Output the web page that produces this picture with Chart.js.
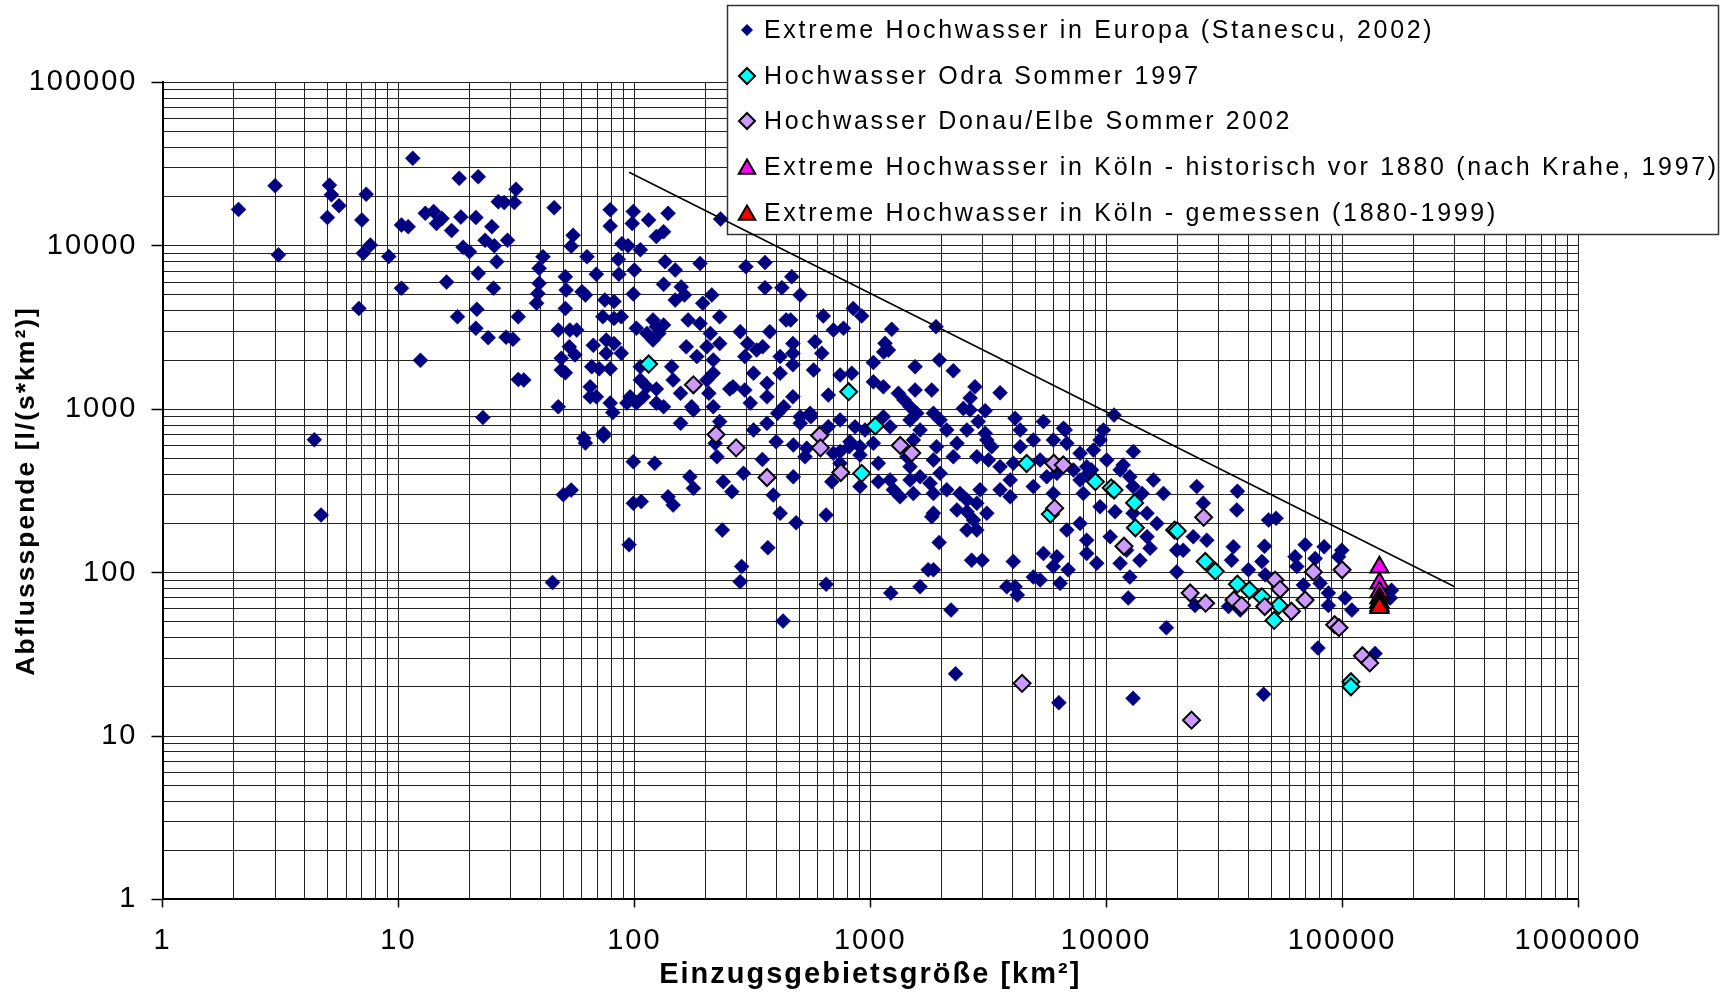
<!DOCTYPE html>
<html><head><meta charset="utf-8">
<script src="https://cdn.jsdelivr.net/npm/chart.js@4.4.1/dist/chart.umd.min.js"></script>
<style>html,body{margin:0;padding:0;background:#fff;}#wrap{position:relative;width:1722px;height:996px;}</style>
</head><body><div id="wrap"><canvas id="c" width="1722" height="996"></canvas></div>
<script>
// ---- data: [Einzugsgebietsgröße km², Abflussspende l/(s*km²)] ----
const stanescu = [
[2.1,16700],[3,23300],[3.1,8800],[5.1,23500],[5.2,20500],[5.6,17600],[5,14900],[7.3,20700],[7,14400],[7.6,10100],[7.1,9000],[9.1,8600],[10.3,5500],[6.8,4140],[11.5,34300],[18.1,25900],[21.8,26500],[31.5,22200],[26.5,18600],[28.1,18400],[31,18400],[13,15800],[14.1,16200],[15.3,14700],[14.5,13700],[18.4,15000],[21.3,14900],[24.9,13100],[16.8,12400],[10.3,13400],[11,13100],[18.8,9800],[20,9200],[23.3,10800],[25.5,10000],[29,10800],[26.1,8000],[21.8,6800],[16,6000],[25.3,5500],[17.8,3680],[21.5,4090],[21.3,3130],[24,2740],[28.6,2760],[30.6,2680],[32.2,3680],[12.4,1990],[32.2,1520],[22.8,890],[4.4,650],
[4.7,225],[62,620],[74,686],[50,300],[54,320],[45,87],
[45.7,17100],[79,16600],[79,13200],[99,16200],[98,13700],[115,14400],[139,15800],[124,11400],[133,12200],[232,14600],[55,11600],[54,9950],[88.5,10300],[94,10000],[106,9450],[41,8580],[39.5,7280],[63,8580],[85.5,8260],[135,8000],[190,7800],[297,7450],[358,7900],[465,6470],[358,5540],[422,5540],[504,5000],[69,6700],[86,6700],[100,7100],[149,7110],[51,6470],[39.5,5890],[51.4,5360],[60,5230],[62,5000],[39,5100],[38.5,4450],[99,5070],[133,5810],[158,5600],[163,5000],[149,4660],[213,5000],[195,4450],[75,4660],[82,4560],[51,4140],[73.5,3680],[82,3590],[88,3680],[120,3520],[124,3200],[133,3270],[113,2910],[120,2650],[127,2910],[169,3520],[190,3350],[230,3680],[102,3130],[47.6,3050],[53.3,3050],[57,3050],[53,2410],[56,2150],[67,2460],[76,2650],[82,2520],[88,2200],[76,2200],[49,2050],[49,1740],[51,1670],[66,1820],[71,1770],[79,1770],[106,1820],[144,1820],[166,2410],[184,2100],[210,2910],[203,2410],[230,2520],[216,2000],[281,2980],[302,2520],[375,2980],[294,2100],[330,2300],[350,2410],[415,2100],[470,2520],[470,2200],[460,3520],[440,3520],[583,2590],[575,1740],[470,1870],[415,1660],[320,1660],[365,1440],[262,1370],[294,1310],[310,1090],[365,1190],[470,1190],[430,1035],[505,820],[365,820],[320,746],[106,1510],[113,1370],[124,1330],[96,1190],[102,1090],[109,1190],[93,1090],[124,1090],[133,1035],[146,1510],[157,1250],[175,1035],[203,1510],[216,1660],[207,1250],[254,1330],[65,1370],[69,1190],[65,1190],[79,1090],[81,953],[47.6,1035],[34,1510],[61,664],[74,712],[157,820],[178,990],[230,840],[216,1035],[405,944],[505,900],[560,900],
[632,3720],[847,4140],[920,3720],[698,3050],[770,3130],[1233,3080],[1900,3200],[623,2200],[1155,2530],[1194,2300],[1140,2240],[1031,1930],[1549,1820],[1963,2000],[2250,1720],[745,1620],[835,1660],[1823,1310],[2780,1370],[3550,1260],[2650,1170],[3070,980],[2480,1010],[10800,920],[664,1220],[1031,1470],[1136,1370],[1316,1250],[1390,1140],[1475,1035],[1575,944],[1977,860],[556,944],[745,860],[862,780],[950,746],[1136,900],[1213,780],[1549,1310],[1853,944],[2110,746],[2250,512],[2650,990],[2870,840],[3070,712],[3270,590],[3550,445],[3920,369],[4110,880],[4320,746],[5420,840],[4910,648],[5970,648],[6700,746],[6810,618],[7750,537],[8830,562],[9730,746],[9420,648],[10060,489],[8270,445],[5600,386],[4910,336],[8000,305],[11460,425],[1031,618],[905,590],[815,590],[698,537],[529,512],[745,467],[687,360],[905,336],[1082,360],[1213,369],[1253,321],[1475,445],[1626,386],[1792,352],[1977,405],[2110,321],[1853,305],[1337,291],[2400,305],[2920,321],[3550,321],[3920,291],[5970,305],
[1475,860],[1626,746],[2570,746],[6590,764],[13040,550],[8670,425],[4320,590],[3120,648],[2330,618],[1910,590],[1523,648],[1430,512],[1853,489],[2830,512],[3170,489],[4040,467],[5250,489],[6180,405],[7260,425],[7750,369],[8410,405],[1475,369],[1523,305],[2570,278],[2830,266],[3120,231],[2740,210],[2570,236],[2330,242],[1853,231],[1823,220],[2570,182],[2830,182],[2690,119],[2980,119],[1760,104],[1853,104],[1626,82],[2200,59],[2300,24],[6300,16],[13000,17],[18000,46],[12400,70],[4040,117],[4110,82],[4200,73],[3790,82],[4910,94],[5250,90],[6180,125],[6380,86],[6900,104],[5420,131],[5970,109],[6810,182],[7750,200],[8270,158],[8270,131],[9120,114],[9420,253],[10400,166],[11460,114],[12600,94],[12200,137],[13900,119],[15350,141],[14900,166],[16400,200],[19900,137],[21200,137],[19900,101],[23400,166],[26700,158],[24200,336],[25800,266],[10900,236],[10700,321],[13000,336],[14900,231],[13000,231],[14200,305],[15850,369],[17500,305],[11800,455],[12600,386],[1960,153],
[36000,315],[35800,242],[48800,210],[52500,215],[69700,148],[83900,144],[99700,137],[96600,125],[46900,145],[34600,144],[34000,119],[45700,117],[63200,125],[76900,122],[64300,109],[40100,104],[47200,97],[68500,84],[80700,86],[87500,75],[103000,70],[87500,63],[110000,59],[33000,62],[37000,59],[79000,34.5],[138000,32],[46500,18],[162000,78],[160000,70],[23800,63],
[99,477],[122,467],[172,386],[178,328],[99,266],[107,272],[139,291],[146,259],[238,360],[259,313],[224,512],[220,618],[290,405],[349,493],[399,632],[472,386],[388,298],[415,231],[485,202],[236,182],[95,148],[368,142],[285,109],[281,88],[650,225],[650,85],[1222,75],[427,50.5],[472,604],[538,577],[745,550],[820,632],[905,525],[1082,467],[664,782]
];
const odra = [[115,1890],[810,1280],[1050,790],[920,405],[4600,465],[5800,228],[9000,360],[10500,330],[10800,320],[13200,267],[13300,188],[19500,182],[20000,180],[26300,117],[29000,102],[36000,85],[40500,78],[45700,71],[54000,63],[51500,51],[109000,21.5],[109000,20]];
const donauElbe = [[178,1410],[222,700],[270,580],[365,382],[610,690],[615,580],[750,410],[1340,600],[1500,540],[6000,467],[6580,456],[6050,248],[4400,21],[11900,145],[25900,218],[22700,75],[26400,65],[23000,12.5],[34800,68],[37500,63],[47000,62],[52000,90],[54600,79],[61000,58],[69700,68],[75600,101],[100000,104],[93000,48],[97000,46],[122000,31],[131000,28]];
const koelnHistorisch = [[144000,108],[144000,86],[144000,76]];
const koelnGemessen = [[144000,70],[144000,66],[144000,63],[144000,61]];
const envelopeLine = [[95,28200],[300000,82]];
const xTickLabels = ['1','10','100','1000','10000','100000','1000000'];
const yTickLabels = ['1','10','100','1000','10000','100000'];
const seriesLabels = [
  'Extreme Hochwasser in Europa (Stanescu, 2002)',
  'Hochwasser Odra Sommer 1997',
  'Hochwasser Donau/Elbe Sommer 2002',
  'Extreme Hochwasser in Köln - historisch vor 1880 (nach Krahe, 1997)',
  'Extreme Hochwasser in Köln - gemessen (1880-1999)'
];
const xTitle = 'Einzugsgebietsgröße [km²]';
const yTitle = 'Abflussspende [l/(s*km²)]';

// ---- helpers ----
const toXY = arr => arr.map(p => ({x: p[0], y: p[1]}));
function gridValues(labels){
  const out = [];
  for (let i = 0; i < labels.length - 1; i++) {
    const d = Number(labels[i]);
    for (let m = 1; m <= 9; m++) out.push(m * d);
  }
  out.push(Number(labels[labels.length - 1]));
  return out;
}
const xGrid = gridValues(xTickLabels), yGrid = gridValues(yTickLabels);
const xDec = new Set(xTickLabels.map(Number)), yDec = new Set(yTickLabels.map(Number));
const FONT = '"Liberation Sans", Arial, Helvetica, sans-serif';
Chart.defaults.font.family = FONT;
Chart.defaults.color = '#000';

const spacingPlugin = {
  id: 'spacing',
  beforeDraw(chart){ chart.ctx.letterSpacing = '2px'; },
  afterDraw(chart){ chart.ctx.letterSpacing = '0px'; }
};

function diamond(ctx, x, y, r){ ctx.beginPath(); ctx.moveTo(x, y - r); ctx.lineTo(x + r, y); ctx.lineTo(x, y + r); ctx.lineTo(x - r, y); ctx.closePath(); }
function triangle(ctx, x, y, r){ ctx.beginPath(); ctx.moveTo(x, y - r); ctx.lineTo(x + r * 0.866, y + r * 0.5); ctx.lineTo(x - r * 0.866, y + r * 0.5); ctx.closePath(); }

const legendPlugin = {
  id: 'boxLegend',
  beforeDatasetsDraw(chart){
    const ctx = chart.ctx;
    ctx.save();
    ctx.letterSpacing = '0px';
    ctx.fillStyle = '#fff';
    ctx.fillRect(727, 5, 992, 230);
    ctx.strokeStyle = '#333';
    ctx.lineWidth = 1.5;
    ctx.strokeRect(727.5, 5.5, 991, 229);
    const rows = [30, 76, 121, 167, 213];
    chart.data.datasets.filter(d => d.label).forEach((ds, i) => {
      const y = rows[i], x = 747;
      ctx.fillStyle = ds.backgroundColor;
      ctx.strokeStyle = ds.borderColor;
      ctx.lineWidth = ds.legendBorder;
      if (ds.pointStyle === 'triangle') triangle(ctx, x, y + 2, ds.legendRadius); else diamond(ctx, x, y, ds.legendRadius);
      ctx.fill();
      if (ds.legendBorder > 0) ctx.stroke();
      ctx.fillStyle = '#000';
      ctx.font = '25px ' + FONT;
      ctx.letterSpacing = '2.7px';
      ctx.textBaseline = 'middle';
      ctx.textAlign = 'left';
      ctx.fillText(ds.label, 764, y + 1);
    });
    ctx.restore();
  }
};

function axisCfg(grid, dec, labels, isX){
  return {
    type: 'logarithmic',
    min: Number(labels[0]), max: Number(labels[labels.length - 1]),
    afterBuildTicks: s => { s.ticks = grid.map(v => ({value: v, major: dec.has(v)})); },
    afterFit: s => { if (isX) s.height = 96.6; else s.width = 162.5; },
    ticks: {
      autoSkip: false, maxRotation: 0, minRotation: 0,
      padding: isX ? 16 : 14,
      font: {size: 29}, color: '#000',
      callback: v => dec.has(v) ? labels[[...dec].indexOf(v)] : ''
    },
    grid: {
      color: '#222', lineWidth: 1, drawTicks: true,
      tickLength: isX ? 8 : 11, tickWidth: 1.5,
      tickColor: c => (c.tick && dec.has(c.tick.value)) ? '#000' : 'rgba(0,0,0,0)'
    },
    border: {display: true, color: '#000', width: 2},
    title: {
      display: true, text: isX ? xTitle : yTitle, color: '#000',
      font: {size: isX ? 29 : 26.5, weight: 'bold'},
      padding: isX ? {top: 0, bottom: 4} : {top: 11, bottom: 0}
    }
  };
}

new Chart(document.getElementById('c'), {
  type: 'scatter',
  data: {
    datasets: [
      {label: '', data: toXY(envelopeLine), showLine: true, borderColor: '#000', borderWidth: 1.6, pointRadius: 0, fill: false, order: 0},
      {label: seriesLabels[4], data: toXY(koelnGemessen), pointStyle: 'triangle', pointRadius: 10.5, backgroundColor: '#FF0000', borderColor: '#000', borderWidth: 2, legendRadius: 9.5, legendBorder: 2, order: 1},
      {label: seriesLabels[3], data: toXY(koelnHistorisch), pointStyle: 'triangle', pointRadius: 10.5, backgroundColor: '#FF00FF', borderColor: '#000', borderWidth: 2, legendRadius: 9.5, legendBorder: 2, order: 2},
      {label: seriesLabels[2], data: toXY(donauElbe), pointStyle: 'rectRot', pointRadius: 8.5, backgroundColor: '#CC99FF', borderColor: '#000', borderWidth: 2, legendRadius: 8, legendBorder: 2, order: 3},
      {label: seriesLabels[1], data: toXY(odra), pointStyle: 'rectRot', pointRadius: 8.5, backgroundColor: '#00FFFF', borderColor: '#000', borderWidth: 2, legendRadius: 8, legendBorder: 2, order: 4},
      {label: seriesLabels[0], data: toXY(stanescu), pointStyle: 'rectRot', pointRadius: 7.5, backgroundColor: '#000080', borderColor: '#000080', borderWidth: 0.5, legendRadius: 6, legendBorder: 0, order: 5}
    ].reverse()
  },
  options: {
    responsive: false, animation: false, devicePixelRatio: 1, events: [],
    layout: {padding: {top: 82.4, right: 144, bottom: 0, left: 0}},
    plugins: {legend: {display: false}, tooltip: {enabled: false}},
    scales: {
      x: axisCfg(xGrid, xDec, xTickLabels, true),
      y: axisCfg(yGrid, yDec, yTickLabels, false)
    }
  },
  plugins: [spacingPlugin, legendPlugin]
});
</script></body></html>
